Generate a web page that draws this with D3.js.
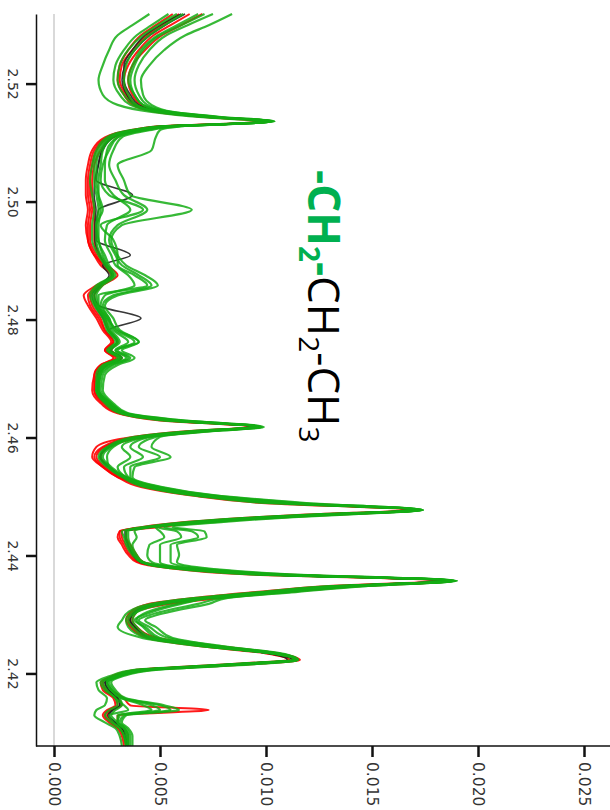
<!DOCTYPE html>
<html><head><meta charset="utf-8">
<script src="https://cdn.jsdelivr.net/npm/d3@7"></script>
<style>body{margin:0;background:#fff}svg{display:block}</style></head>
<body><svg id="c" width="610" height="810"></svg>
<script>
// chemical shift grid (ppm), top to bottom
const ppm = [2.5318,2.5299,2.5282,2.5257,2.5231,2.5206,2.5181,2.5164,2.5152,2.5143,
2.5136,2.5131,2.5128,2.5121,2.5109,2.5087,2.5062,2.5036,2.5011,2.4986,
2.4960,2.4935,2.4909,2.4892,2.4875,2.4858,2.4841,2.4824,2.4802,2.4782,
2.4762,2.4748,2.4735,2.4723,2.4706,2.4680,2.4658,2.4641,2.4629,2.4618,
2.4611,2.4601,2.4584,2.4567,2.4550,2.4533,2.4516,2.4502,2.4489,2.4477,
2.4470,2.4465,2.4457,2.4448,2.4441,2.4431,2.4418,2.4401,2.4389,2.4379,
2.4368,2.4357,2.4348,2.4338,2.4328,2.4318,2.4304,2.4290,2.4279,2.4260,
2.4246,2.4234,2.4223,2.4217,2.4212,2.4206,2.4195,2.4185,2.4172,2.4158,
2.4146,2.4138,2.4129,2.4117,2.4107,2.4094,2.4077];

const yTicks = [2.52,2.50,2.48,2.46,2.44,2.42];
const yTickLabels = ["2.52","2.50","2.48","2.46","2.44","2.42"];
const xTicks = [0,0.005,0.010,0.015,0.020,0.025];
const xTickLabels = ["0.000","0.005","0.010","0.015","0.020","0.025"];
const UNIT = 0.001; // series intensities below are in units of 1e-3

const blackSeries = [
[6.18,5.24,4.53,3.82,3.35,3.21,3.44,3.82, 5.00,7.36,10.19,7.83,5.47,3.82,
 2.74,2.26,2.08,1.93,1.89,1.98,1.93,1.93,2.17,2.41,2.74,2.17,1.79,1.93,2.31,2.55,2.97,2.64,3.11,2.41,2.08,2.03,2.50,3.25,
 5.47,9.48,6.89,4.06, 2.55,2.17,2.55,3.25,4.53,6.89, 10.66,17.03,13.02,10.19,6.89,4.53,
 3.35,3.35,3.49,3.73,4.06,5.61, 9.72,18.44,13.49,10.19,7.22,5.00, 3.82,3.58,3.82,4.53,
 7.22,10.19,11.23,9.25,6.89,4.06, 2.88,2.41,2.55,3.02,3.11,2.74,2.55,2.88,3.21,3.35,3.40],
[6.0,5.0,4.3,3.7,3.3,3.3,3.6,4.0, 5.2,7.6,10.0,7.7,5.5,3.9,
 2.8,2.3,2.1,2.0,3.7,2.1,2.0,2.0,3.6,2.3,2.6,2.2,1.9,2.1,4.1,2.6,3.0,2.7,3.2,2.5,2.1,2.1,2.6,3.3,
 5.5,9.4,6.9,4.1, 2.6,2.2,2.6,3.3,4.6,6.9, 10.7,17.0,13.0,10.2,6.9,4.5,
 3.4,3.4,3.5,3.8,4.1,5.6, 9.7,18.3,13.5,10.2,7.2,5.0, 3.8,3.6,3.8,4.5,
 7.2,10.1,11.0,9.2,6.9,4.1, 2.9,2.4,2.6,3.0,3.1,2.8,2.6,2.9,3.2,3.4,3.4]
];

const redSeries = [
[5.6,4.8,4.1,3.5,3.1,3.0,3.3,3.7, 4.8,7.2,9.8,7.5,5.2,3.6,
 2.4,1.8,1.6,1.5,1.5,1.6,1.5,1.6,1.9,2.4,2.8,2.0,1.4,1.6,2.0,2.3,2.7,2.4,2.8,2.2,1.9,1.8,2.2,3.0,
 5.0,9.3,6.4,3.7, 2.0,1.8,2.3,3.0,4.1,6.4, 9.8,16.6,12.3,9.5,6.3,4.1,
 3.1,3.0,3.2,3.5,3.9,5.3, 9.0,18.2,12.8,9.5,6.6,4.5, 3.6,3.4,3.6,4.4,
 6.9,10.0,11.1,8.8,6.5,3.8, 2.7,2.2,2.3,2.8,2.9,2.5,2.3,2.6,3.0,3.2,3.3],
[6.4,5.5,4.7,4.0,3.5,3.3,3.5,3.9, 5.1,7.5,10.1,7.8,5.4,3.8,
 2.6,2.0,1.8,1.7,1.7,1.8,1.7,1.7,2.0,2.3,2.8,2.2,1.7,1.8,2.2,2.4,2.8,2.5,3.0,2.3,2.0,1.9,2.4,3.2,
 5.4,9.5,6.8,4.0, 2.4,2.0,2.4,3.1,4.5,6.9, 10.6,17.1,13.1,10.2,6.8,4.4,
 3.2,3.2,3.4,3.7,4.0,5.7, 9.9,18.7,13.7,10.4,7.3,5.1, 3.8,3.6,3.8,4.6,
 7.3,10.3,11.4,9.4,7.0,4.1, 2.8,2.3,2.5,3.0,3.2,2.7,2.5,2.8,3.1,3.3,3.4],
[7.0,6.0,5.1,4.3,3.7,3.5,3.7,4.1, 5.3,7.7,10.2,7.9,5.6,4.0,
 2.8,2.2,1.9,1.8,1.8,1.9,1.9,1.9,2.1,2.5,3.0,2.3,1.9,2.0,2.4,2.6,3.0,2.7,3.2,2.5,2.1,2.0,2.5,3.3,
 5.8,9.6,7.3,4.4, 2.6,2.2,2.6,3.3,4.8,7.3, 11.3,17.2,13.8,10.9,7.5,4.9,
 3.4,3.4,3.6,3.9,4.2,6.0, 10.6,18.8,14.4,11.0,7.9,5.5, 3.9,3.7,3.9,4.9,
 7.8,10.6,11.6,9.9,7.5,4.5, 3.0,2.5,2.7,3.3,3.6,7.3,3.0,3.0,3.3,3.5,3.5],
[5.9,5.1,4.4,3.7,3.2,3.1,3.4,3.8, 5.0,7.4,10.0,7.7,5.3,3.7,
 2.5,1.9,1.7,1.6,1.6,1.7,1.6,1.6,1.9,2.2,2.7,2.1,1.6,1.7,2.1,2.4,2.8,2.4,2.9,2.2,1.9,1.9,2.3,3.1,
 5.3,9.4,6.7,3.9, 2.3,1.9,2.3,3.0,4.4,6.8, 10.5,16.9,12.9,10.0,6.7,4.4,
 3.1,3.1,3.3,3.6,4.0,5.6, 9.8,18.5,13.6,10.2,7.2,5.0, 3.7,3.5,3.7,4.5,
 7.2,10.2,11.3,9.3,6.9,4.0, 2.8,2.3,2.4,2.9,3.0,2.6,2.4,2.7,3.1,3.3,3.4]
];

const greenSeries = [
[4.5,3.7,3.0,2.6,2.3,2.1,2.3,3.0, 4.6,7.0,9.9,7.6,5.2,3.6,
 2.5,2.0,1.8,1.7,1.8,1.9,1.8,1.8,2.1,2.4,2.7,2.0,1.7,1.9,2.3,2.5,2.9,2.5,3.0,2.3,2.0,2.0,2.4,3.1,
 5.1,9.6,6.5,3.8, 2.5,2.1,2.5,3.2,4.3,6.6, 10.0,17.3,12.6,9.7,6.4,4.2,
 3.2,3.3,3.4,3.7,4.1,5.4, 9.3,18.9,13.0,9.7,6.7,4.6, 3.5,3.2,3.0,4.2,
 7.0,10.3,11.4,9.0,6.5,3.8, 2.6,2.0,2.1,2.5,2.4,2.0,1.9,2.4,2.9,3.1,3.2],
[6.1,5.2,4.5,3.8,3.4,3.3,3.5,3.9, 5.1,7.5,10.3,7.9,5.5,3.9,
 2.8,2.3,2.2,2.1,2.1,2.2,2.1,2.1,2.4,2.6,2.9,2.3,2.0,2.1,2.5,2.7,3.1,2.7,3.2,2.5,2.2,2.1,2.6,3.3,
 5.6,9.7,7.0,4.2, 2.7,2.3,2.7,3.4,4.7,7.0, 10.9,17.4,13.2,10.3,7.0,4.6,
 3.5,3.5,3.6,3.8,4.2,5.8, 10.1,19.0,13.8,10.4,7.3,5.1, 3.9,3.7,3.9,4.7,
 7.4,10.4,11.4,9.4,7.0,4.2, 3.0,2.5,2.7,3.1,3.2,2.9,2.7,3.0,3.3,3.4,3.5],
[7.5,6.3,5.3,4.5,4.0,3.8,4.0,4.4, 5.5,7.9,10.4,8.0,5.9,4.5,
 3.2,2.8,2.6,2.9,3.3,4.4,3.0,2.6,2.9,3.2,4.0,4.6,2.8,2.3,2.6,2.9,3.8,3.0,3.6,2.8,2.3,2.2,2.7,3.4,
 6.0,9.8,7.5,4.8, 4.0,5.0,3.6,3.6,5.0,7.5, 11.6,17.4,13.9,11.0,7.7,5.2,
 6.5,6.8,5.5,5.5,5.5,6.7, 10.9,19.0,14.5,11.1,8.0,6.8, 5.0,4.0,4.5,5.4,
 7.9,10.6,11.5,9.9,7.5,4.6, 3.1,2.6,2.8,3.3,5.0,5.5,3.3,3.1,3.4,3.6,3.6],
[8.4,7.3,6.2,5.2,4.5,4.1,4.2,4.6, 5.6,8.0,10.4,8.1,6.1,5.0,
 4.8,4.6,3.0,3.3,3.6,6.5,3.2,2.7,3.0,3.4,4.3,4.9,3.0,2.4,2.8,3.1,4.0,3.2,3.8,3.0,2.4,2.3,2.8,3.5,
 6.1,9.9,7.6,5.0, 4.6,5.5,3.8,3.7,5.1,7.6, 11.9,17.2,14.2,11.3,8.0,5.6,
 7.1,7.2,5.8,5.9,5.8,7.0, 11.1,18.9,14.7,11.4,8.2,7.3, 5.4,4.3,4.8,5.6,
 8.0,10.7,11.5,10.0,7.7,4.8, 3.2,2.7,2.9,3.4,5.2,5.9,3.4,3.2,3.5,3.7,3.7],
[6.8,5.8,4.9,4.1,3.7,3.5,3.8,4.2, 5.3,7.7,10.3,8.0,5.7,4.2,
 3.0,2.6,2.3,2.2,2.6,4.2,2.2,2.8,3.0,3.0,3.8,4.4,2.1,2.1,2.5,3.0,4.0,2.9,3.4,2.6,2.1,2.1,2.6,3.3,
 5.6,9.7,7.1,4.4, 3.2,3.6,3.0,3.4,4.7,7.0, 10.9,17.3,13.2,10.3,7.1,4.8,
 5.0,5.2,4.5,4.4,4.6,6.0, 10.1,18.8,13.8,10.5,7.4,5.8, 4.4,3.9,4.2,4.9,
 7.5,10.5,11.4,9.4,7.0,4.3, 3.0,2.5,2.7,3.2,4.2,4.6,3.0,3.0,3.3,3.5,3.5],
[5.4,4.6,3.9,3.3,2.9,2.8,3.1,3.6, 4.9,7.3,10.1,7.8,5.4,3.8,
 2.6,2.1,1.9,1.9,2.0,2.1,2.0,2.0,2.2,2.5,2.8,2.1,1.8,2.0,2.4,2.6,3.0,2.6,3.1,2.4,2.1,2.0,2.5,3.2,
 5.3,9.6,6.7,4.0, 2.6,2.2,2.6,3.3,4.4,6.7, 10.3,17.2,12.8,9.9,6.6,4.3,
 3.4,3.4,3.5,3.8,4.1,5.5, 9.5,18.8,13.2,9.9,6.9,4.8, 3.7,3.4,3.5,4.4,
 7.1,10.3,11.4,9.1,6.7,3.9, 2.8,2.2,2.4,2.9,3.0,2.6,2.4,2.7,3.1,3.3,3.4],
[7.1,6.0,5.0,4.2,3.8,3.6,3.8,4.2, 5.4,7.8,10.3,8.0,5.8,4.3,
 3.0,2.5,2.4,2.4,2.8,3.6,2.5,2.4,2.7,2.9,3.5,3.8,2.4,2.2,2.6,2.8,3.5,2.9,3.5,2.7,2.2,2.1,2.7,3.4,
 5.7,9.8,7.1,4.5, 3.6,4.2,3.3,3.5,4.7,7.0, 11.0,17.2,13.3,10.4,7.1,4.9,
 5.8,6.0,5.0,5.0,5.0,6.2, 10.2,18.6,13.8,10.5,7.4,6.0, 4.6,3.8,4.3,5.0,
 7.5,10.5,11.5,9.4,7.0,4.3, 3.0,2.5,2.7,3.2,4.6,5.0,3.1,3.0,3.3,3.5,3.5],
[5.8,4.9,4.2,3.5,3.1,3.0,3.3,3.8, 5.0,7.4,10.2,7.8,5.4,3.8,
 2.7,2.2,2.0,2.0,2.1,2.3,2.0,2.1,2.3,2.5,2.8,2.2,1.9,2.0,2.4,2.6,3.0,2.6,3.1,2.4,2.1,2.0,2.5,3.2,
 5.5,9.6,6.9,4.1, 2.8,2.5,2.6,3.3,4.6,6.9, 10.8,17.4,13.1,10.2,6.9,4.5,
 3.8,3.9,3.7,3.9,4.2,5.8, 10.0,18.9,13.7,10.3,7.2,5.2, 3.9,3.5,3.7,4.6,
 7.3,10.3,11.5,9.3,6.9,4.1, 2.9,2.3,2.5,2.9,3.3,3.5,2.6,2.8,3.1,3.3,3.4]
];

const svg = d3.select("#c");
const plotTop = 14, plotBottom = 746, axisX = 36;
const y = d3.scaleLinear().domain([2.5318, 2.4077]).range([plotTop, plotBottom]);
const x = d3.scaleLinear().domain([0, 0.025]).range([54, 584]);

// zero line
svg.append("line").attr("x1", x(0)).attr("x2", x(0)).attr("y1", plotTop).attr("y2", plotBottom)
  .attr("stroke", "#d9d9d9").attr("stroke-width", 2);

const line = d3.line()
  .y((d, i) => y(ppm[i]))
  .x(d => x(d * UNIT))
  .curve(d3.curveMonotoneY);

const g = svg.append("g");
function draw(list, color, op, w) {
  list.forEach(s => {
    g.append("path").datum(s).attr("d", line)
      .attr("fill", "none").attr("stroke", color)
      .attr("stroke-width", w).attr("stroke-opacity", op)
      .attr("stroke-linejoin", "round");
  });
}
draw(redSeries, "#ff0000", 0.9, 2.0);
draw(blackSeries, "#222222", 0.9, 1.6);
draw(greenSeries, "#14ad14", 0.85, 2.2);

// left axis (ppm)
const ya = svg.append("g").attr("transform", `translate(${axisX},0)`)
  .call(d3.axisLeft(y).tickValues(yTicks).tickFormat((d, i) => yTickLabels[i]).tickSize(10).tickSizeOuter(0));
ya.select(".domain").attr("stroke", "#111").attr("stroke-width", 1.5);
ya.selectAll(".tick line").attr("stroke", "#111").attr("stroke-width", 2.5);
ya.selectAll(".tick text").attr("x", null).attr("dy", null).attr("y", null)
  .attr("text-anchor", "middle")
  .attr("transform", "translate(-28.5,0) rotate(90)")
  .attr("font-family", "DejaVu Sans").attr("font-size", 14).attr("fill", "#333");

// bottom axis (intensity)
const xa = svg.append("g").attr("transform", `translate(0,${plotBottom})`)
  .call(d3.axisBottom(x).tickValues(xTicks).tickFormat((d, i) => xTickLabels[i]).tickSize(11).tickSizeOuter(0));
xa.select(".domain").remove();
xa.append("line").attr("x1", axisX).attr("x2", 610).attr("y1", 0).attr("y2", 0)
  .attr("stroke", "#111").attr("stroke-width", 1.5);
xa.selectAll(".tick line").attr("stroke", "#111").attr("stroke-width", 2.5);
xa.selectAll(".tick text").attr("x", null).attr("y", null).attr("dy", "0.36em")
  .attr("text-anchor", "start")
  .attr("transform", "translate(0,16) rotate(90)")
  .attr("font-family", "DejaVu Sans").attr("font-size", 15.5).attr("fill", "#333");

// formula label
const t = svg.append("text").attr("transform", "translate(308,170) rotate(90)")
  .attr("font-family", "Open Sans").attr("font-size", 44).attr("fill", "#000");
t.append("tspan").attr("fill", "#00b050").attr("font-weight", "bold").text("-CH");
t.append("tspan").attr("fill", "#00b050").attr("font-weight", "bold").attr("font-size", 28).attr("dy", 9).text("2");
t.append("tspan").attr("fill", "#00b050").attr("font-weight", "bold").attr("dy", -9).text("-");
t.append("tspan").text("CH");
t.append("tspan").attr("font-size", 28).attr("dy", 9).text("2");
t.append("tspan").attr("dy", -9).text("-CH");
t.append("tspan").attr("font-size", 28).attr("dy", 9).text("3");
</script>
</body></html>
